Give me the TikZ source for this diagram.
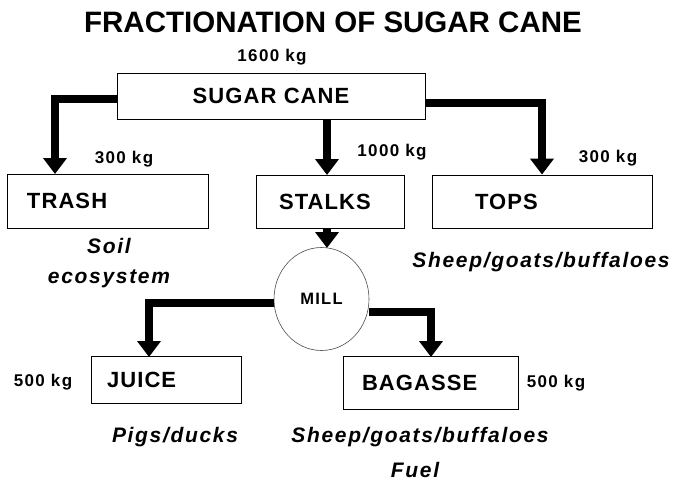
\documentclass[tikz,border=0pt]{standalone}
\usepackage{fontspec}
\setmainfont{Liberation Sans}
\newfontfamily\wideface[LetterSpace=5]{Liberation Sans}
\newfontfamily\widerface[LetterSpace=8]{Liberation Sans}
\usepackage{tikz}
\usetikzlibrary{
  arrows.meta,
  positioning,
  calc,
  shapes.geometric
}

\begin{document}
\begin{tikzpicture}[
    x=1pt, y=-1pt,
    heading/.style={font=\bfseries\fontsize{29.5}{32}\selectfont},
    box/.style={draw, line width=0.9pt, inner ysep=0pt,
      font=\wideface\bfseries\fontsize{22}{24}\selectfont},
    mass/.style={inner sep=0pt, font=\widerface\bfseries\fontsize{17}{19}\selectfont},
    feed/.style={inner sep=0pt, font=\widerface\bfseries\itshape\fontsize{21}{23}\selectfont},
    flow/.style={line width=8pt, line join=miter,
      -{Triangle[width=23pt,length=16pt]}}
    ]

    \useasboundingbox (0,0) rectangle (678,482);

    \node[heading] (title) at (333,22) {FRACTIONATION OF SUGAR CANE};

    % boxes
    \node[box, text width=268pt, inner xsep=20pt, align=center,
      minimum height=46pt] (cane) at (271,96) {SUGAR CANE};
    \node[box, text width=161pt, inner xsep=20pt, align=left,
      minimum height=54pt] (trash) at (107.5,201) {TRASH};
    \node[box, text width=102pt, inner xsep=23pt, align=left,
      minimum height=53pt] (stalks) at (330,201.5) {STALKS};
    \node[box, text width=134pt, inner xsep=43pt, align=left,
      minimum height=53pt] (tops) at (542,201.5) {TOPS};
    \node[ellipse, draw=black!70, line width=0.6pt, inner sep=0pt,
      minimum width=95pt, minimum height=103pt,
      font=\widerface\bfseries\fontsize{16.5}{18}\selectfont]
      (mill) at (321.5,299) {MILL};
    \node[box, text width=118pt, inner xsep=16pt, align=left,
      minimum height=47pt] (juice) at (166,379.5) {JUICE};
    \node[box, text width=137pt, inner xsep=19pt, align=left,
      minimum height=53pt] (bagasse) at (430.5,382.5) {BAGASSE};

    % masses
    \node[mass] (m1600) at (272,57) {1600 kg};
    \node[mass] (m300a) at (124,159) {300 kg};
    \node[mass] (m1000) at (392,152) {1000 kg};
    \node[mass] (m300b) at (608,158) {300 kg};
    \node[mass] (m500a) at (43,382) {500 kg};
    \node[mass] (m500b) at (556,383) {500 kg};

    % uses
    \node[feed] (soil) at (109,246) {Soil};
    \node[feed] (eco) at (109,279) {ecosystem};
    \node[feed] (feedTops) at (541,262) {Sheep/goats/buffaloes};
    \node[feed] (pigs) at (175,437) {Pigs/ducks};
    \node[feed] (feedBag) at (420,437) {Sheep/goats/buffaloes};
    \node[feed] (fuel) at (415,470) {Fuel};

    % flows
    \coordinate (trashIn) at (55,174);
    \coordinate (stalksIn) at (327,175);
    \coordinate (millIn) at (327,248);
    \coordinate (juiceIn) at (149,357);
    \coordinate (bagasseIn) at (431,357);

    \draw[flow] ([yshift=-3pt]cane.west) -| (trashIn);
    \draw[flow] (cane.south -| stalksIn) -- (stalksIn);
    \draw[flow] ([yshift=-7pt]cane.east) -| (tops.north);
    \draw[flow] (stalks.south -| millIn) -- (millIn);
    \draw[flow] ([yshift=-4pt]mill.west) -| (juiceIn);
    \draw[flow] ([yshift=-13pt]mill.east) -| (bagasseIn);

\end{tikzpicture}
\end{document}
